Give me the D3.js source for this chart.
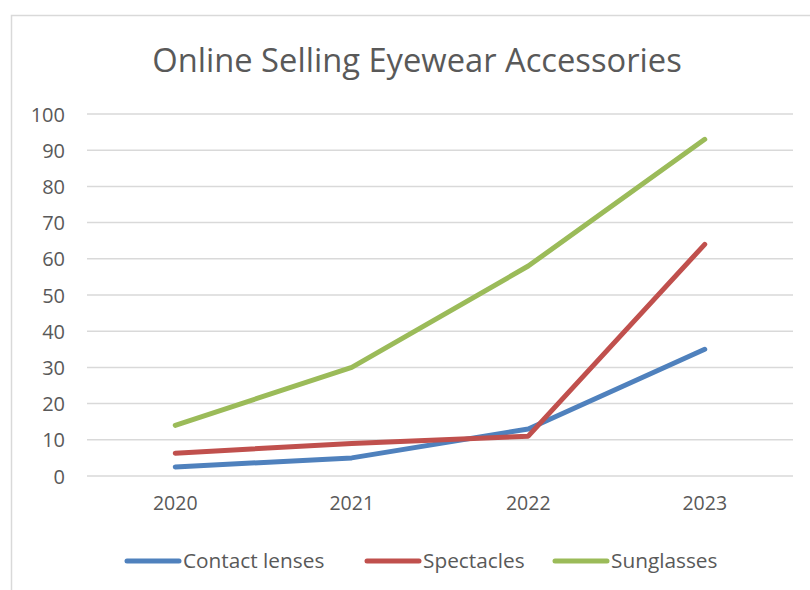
<!DOCTYPE html>
<html>
<head>
<meta charset="utf-8">
<script src="https://cdn.jsdelivr.net/npm/d3@7"></script>
<style>
  body { margin: 0; background: #fff; }
  text { font-family: "Open Sans", "Liberation Sans", sans-serif; fill: #595959; }
</style>
</head>
<body>
<div id="chart"></div>
<script>
// Data
var years = ["2020", "2021", "2022", "2023"];
var contactLenses = [2.5, 5, 13, 35];
var spectacles = [6.3, 9, 11, 64];
var sunglasses = [14, 30, 58, 93];
var yTicks = [0, 10, 20, 30, 40, 50, 60, 70, 80, 90, 100];
var seriesNames = ["Contact lenses", "Spectacles", "Sunglasses"];
var seriesColors = ["#4f81bd", "#c0504d", "#9bbb59"];

var width = 810;
var height = 590;
var plotL = 87, plotR = 793, plotT = 114, plotB = 476;

var svg = d3.select("#chart").append("svg")
    .attr("width", width)
    .attr("height", height);

// chart border (runs off the right/bottom edge)
svg.append("rect")
    .attr("x", 11.5).attr("y", 15.5)
    .attr("width", 830).attr("height", 600)
    .attr("fill", "none")
    .attr("stroke", "#d9d9d9")
    .attr("stroke-width", 1.5);

svg.append("text")
    .attr("x", 417).attr("y", 72)
    .attr("text-anchor", "middle")
    .style("font-size", "32.7px")
    .text("Online Selling Eyewear Accessories");

var xScale = d3.scaleBand().domain(years).range([plotL, plotR]);
var yScale = d3.scaleLinear().domain([0, 100]).range([plotB, plotT]);

// gridlines
svg.append("g").selectAll("line")
    .data(yTicks)
    .enter().append("line")
    .attr("x1", plotL).attr("x2", plotR)
    .attr("y1", function(d){ return yScale(d); })
    .attr("y2", function(d){ return yScale(d); })
    .attr("stroke", "#d9d9d9")
    .attr("stroke-width", 1.5);

// y axis labels
var yAxis = d3.axisLeft(yScale).tickValues(yTicks).tickSize(0).tickPadding(0);
var yG = svg.append("g").attr("transform", "translate(65,0)").call(yAxis);
yG.select(".domain").remove();
yG.selectAll("text").style("font-size", "20px").attr("fill", "#595959").attr("dy", "0.35em");

// x axis labels
var xAxis = d3.axisBottom(xScale).tickSize(0).tickPadding(0);
var xG = svg.append("g").attr("transform", "translate(0,496)").call(xAxis);
xG.select(".domain").remove();
xG.selectAll("text").style("font-size", "19.5px").attr("fill", "#595959").attr("dy", "0.71em");

var line = d3.line()
    .x(function(d, i){ return xScale(years[i]) + xScale.bandwidth() / 2; })
    .y(function(d){ return yScale(d); });

var allSeries = [contactLenses, spectacles, sunglasses];
allSeries.forEach(function(s, i){
    svg.append("path")
        .datum(s)
        .attr("d", line)
        .attr("fill", "none")
        .attr("stroke", seriesColors[i])
        .attr("stroke-width", 5)
        .attr("stroke-linecap", "round")
        .attr("stroke-linejoin", "round");
});

// legend
var legendX = [127, 367, 555];
var legend = svg.append("g");
seriesNames.forEach(function(name, i){
    legend.append("line")
        .attr("x1", legendX[i]).attr("x2", legendX[i] + 52)
        .attr("y1", 561).attr("y2", 561)
        .attr("stroke", seriesColors[i])
        .attr("stroke-width", 5)
        .attr("stroke-linecap", "round");
    legend.append("text")
        .attr("x", legendX[i] + 56).attr("y", 561)
        .attr("dy", "0.35em")
        .style("font-size", "20.8px")
        .text(name);
});
</script>
</body>
</html>
